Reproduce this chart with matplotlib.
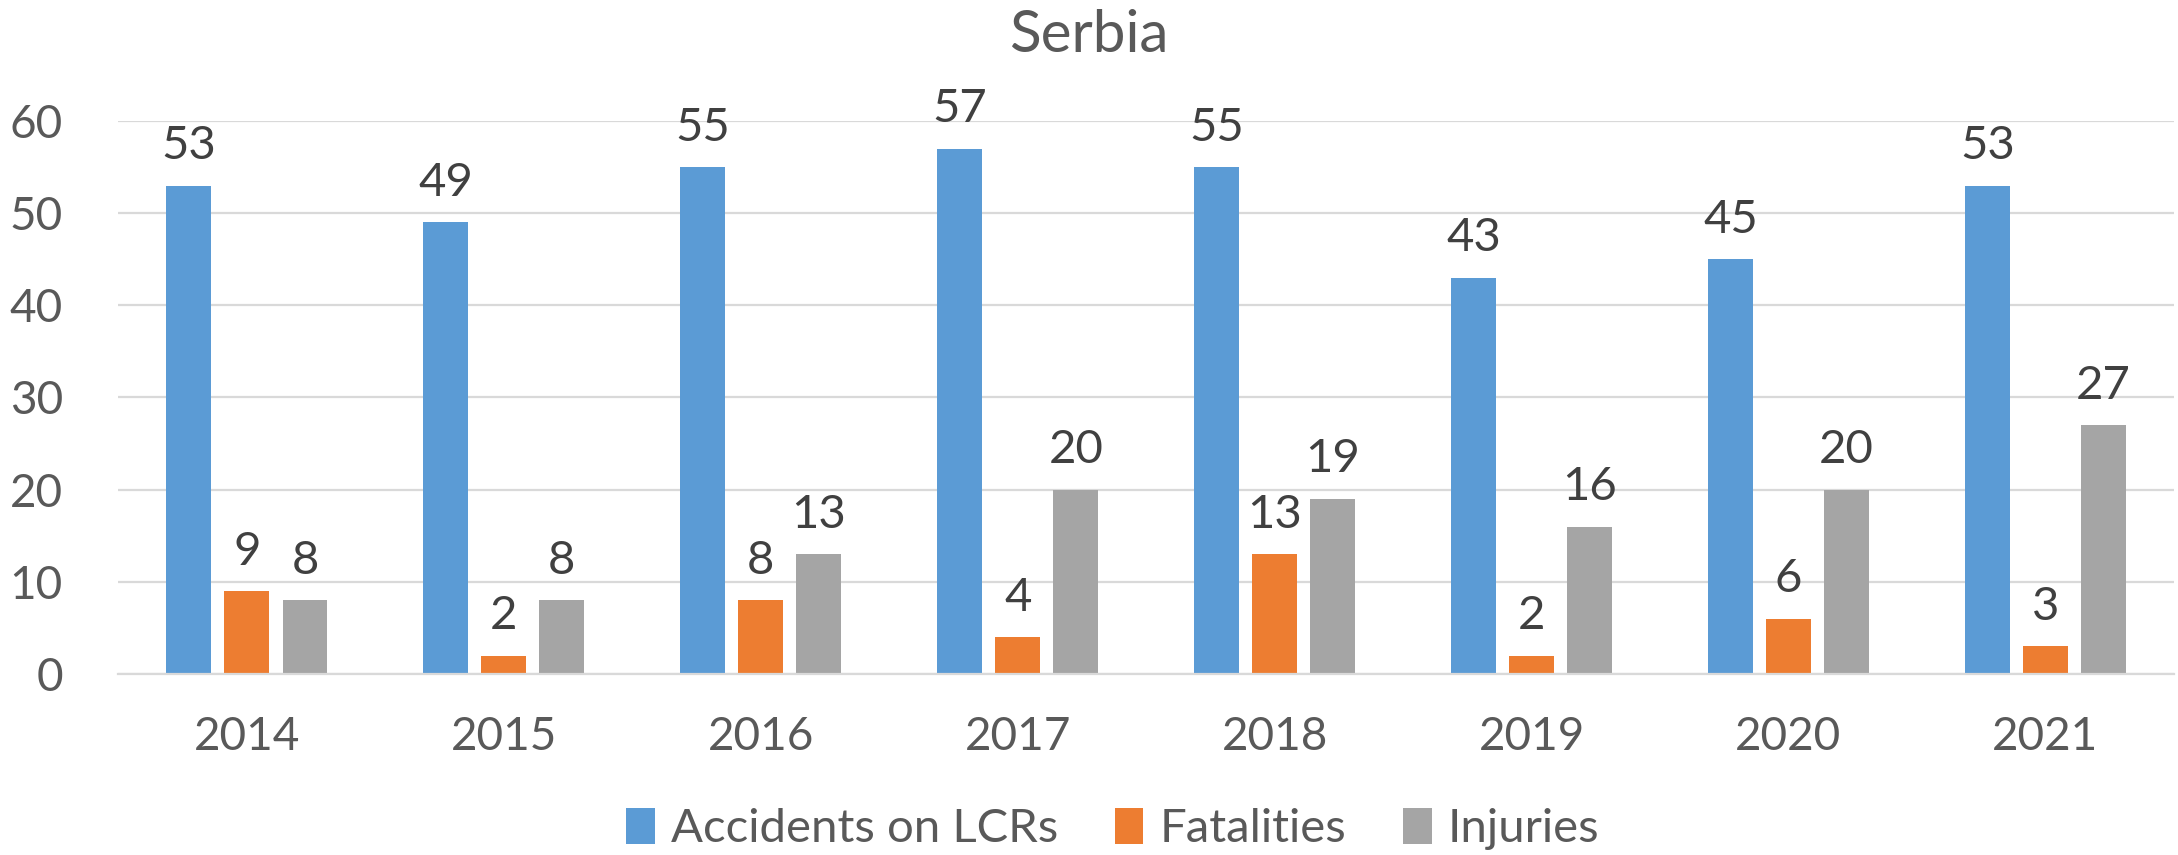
import matplotlib
matplotlib.use("Agg")
import matplotlib.pyplot as plt
import numpy as np
from matplotlib.patches import Patch

years = ["2014", "2015", "2016", "2017", "2018", "2019", "2020", "2021"]
accidents = [53, 49, 55, 57, 55, 43, 45, 53]
fatalities = [9, 2, 8, 4, 13, 2, 6, 3]
injuries = [8, 8, 13, 20, 19, 16, 20, 27]
series_names = ["Accidents on LCRs", "Fatalities", "Injuries"]
colors = ["#5B9BD5", "#ED7D31", "#A5A5A5"]
title = "Serbia"

plt.rcParams['font.family'] = ['Lato', 'DejaVu Sans']

fig = plt.figure(figsize=(21.78, 8.55), dpi=100)
ax = fig.add_axes([0.0544, 0.2117, 0.9437, 0.6468])

x = np.arange(len(years))
w = 0.175
step = 0.226
for i, (vals, c) in enumerate(zip([accidents, fatalities, injuries], colors)):
    pos = x + (i - 1) * step
    bars = ax.bar(pos, vals, width=w, color=c)
    for p, v in zip(pos, vals):
        ax.annotate(str(v), (p, v), xytext=(0, 19), textcoords="offset points",
                    ha="center", va="baseline", fontsize=34, color="#404040")

ax.set_xlim(-0.5, len(years) - 0.5)
ax.set_ylim(0, 60)
ax.set_yticks(range(0, 61, 10))
ax.set_xticks(x)
ax.set_xticklabels(years)
ax.tick_params(axis="both", length=0, labelsize=33, colors="#595959")
ax.tick_params(axis="x", pad=30)
ax.tick_params(axis="y", pad=40)
ax.yaxis.grid(True, color="#D9D9D9", linewidth=1.6)
ax.set_axisbelow(True)
for s in ["top", "right", "left"]:
    ax.spines[s].set_visible(False)
ax.spines["bottom"].set_color("#D9D9D9")
ax.spines["bottom"].set_linewidth(1.6)

fig.text(0.5, 1 - 35 / 855, title, ha="center", va="center", fontsize=42, color="#595959")

handles = [Patch(facecolor=c, label=n) for c, n in zip(colors, series_names)]
fig.legend(handles=handles, loc="center", bbox_to_anchor=(0.511, 1 - 829 / 855), ncol=3,
           frameon=False, fontsize=34, labelcolor="#595959", handlelength=0.6,
           handleheight=0.8, handletextpad=0.35, columnspacing=1.2)

fig.savefig("out.png", dpi=100)
